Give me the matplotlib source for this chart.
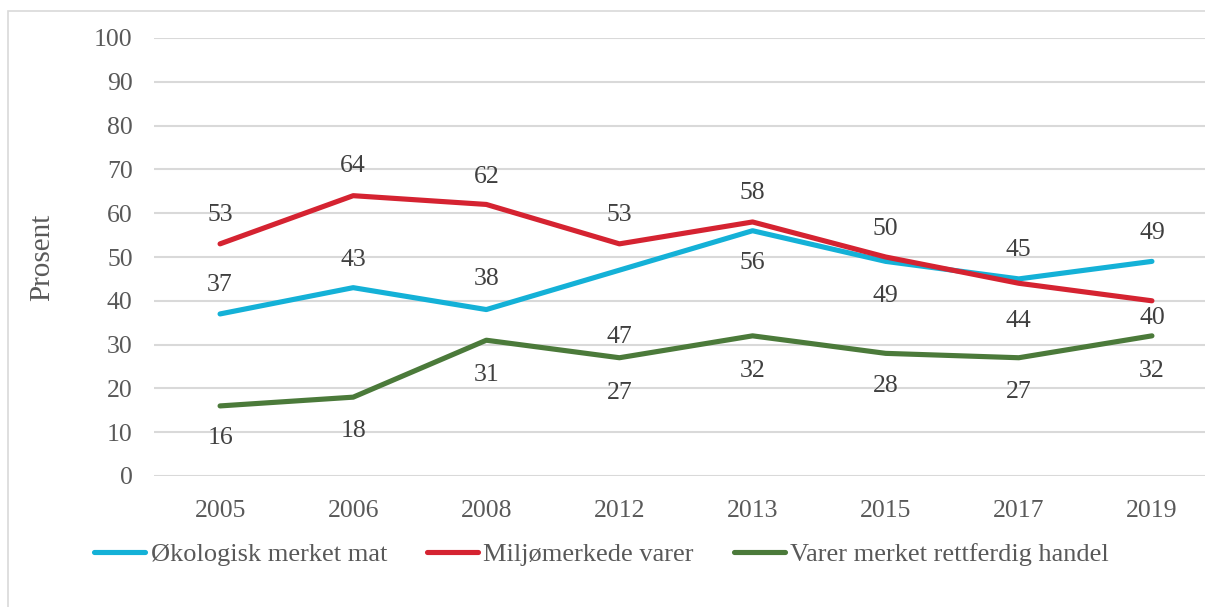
import matplotlib
matplotlib.use("Agg")
import matplotlib.pyplot as plt
from matplotlib.patches import Rectangle

years = ["2005", "2006", "2008", "2012", "2013", "2015", "2017", "2019"]
okologisk = [37, 43, 38, 47, 56, 49, 45, 49]
miljo = [53, 64, 62, 53, 58, 50, 44, 40]
rettferdig = [16, 18, 31, 27, 32, 28, 27, 32]

series_names = ["Økologisk merket mat", "Miljømerkede varer", "Varer merket rettferdig handel"]
colors = ["#14B1D7", "#D52331", "#4B7A3A"]

# vertical label offsets in pixels (positive = above the point)
label_offsets = [
    [29, 28, 31, -67, -32, -35, 29, 28],
    [29, 30, 27, 29, 29, 28, -38, -17],
    [-32, -34, -35, -35, -35, -33, -34, -35],
]

plt.rcParams["font.family"] = ["Liberation Serif", "DejaVu Serif"]
W, H = 1205, 607
fig = plt.figure(figsize=(W / 100, H / 100), dpi=100)

# outer frame of the chart area
fig.patches.append(Rectangle((8 / W, -0.1), 1.2, (H - 11) / H + 0.1,
                             transform=fig.transFigure, fill=False,
                             edgecolor="#D9D9D9", linewidth=1.2))

left, right = 153.5 / W, 1218.5 / W
bottom, top = (H - 476) / H, (H - 38) / H
ax = fig.add_axes([left, bottom, right - left, top - bottom])

x = list(range(len(years)))
handles = []
for vals, name, col, offs in zip([okologisk, miljo, rettferdig], series_names, colors, label_offsets):
    h, = ax.plot(x, vals, color=col, linewidth=3.7, solid_capstyle="round",
                 solid_joinstyle="round", label=name, zorder=3)
    handles.append(h)
    for xi, v, o in zip(x, vals, offs):
        ax.annotate(str(v), (xi, v), xytext=(0, o), textcoords="offset pixels",
                    ha="center", va="center", fontsize=18.5, color="#404040", zorder=4)

ax.set_xlim(-0.5, len(years) - 0.5)
ax.set_ylim(0, 100)
ax.set_yticks(range(0, 101, 10))
ax.set_xticks(x)
ax.set_xticklabels(years)
ax.tick_params(axis="both", length=0, labelsize=18.5, labelcolor="#595959")
ax.tick_params(axis="y", pad=15)
ax.tick_params(axis="x", pad=17)
ax.grid(axis="y", color="#D9D9D9", linewidth=1.5)
ax.set_axisbelow(True)
for s in ax.spines.values():
    s.set_visible(False)
ax.set_ylabel("Prosent", fontsize=21, color="#595959", labelpad=28)

leg = fig.legend(handles=handles, loc="center left", bbox_to_anchor=(94 / W, (H - 554) / H),
                 ncol=3, frameon=False, fontsize=19, handlelength=1.95, handletextpad=0.2,
                 columnspacing=1.5, borderpad=0, borderaxespad=0, labelcolor="#595959")

fig.savefig("out.png", dpi=100)
